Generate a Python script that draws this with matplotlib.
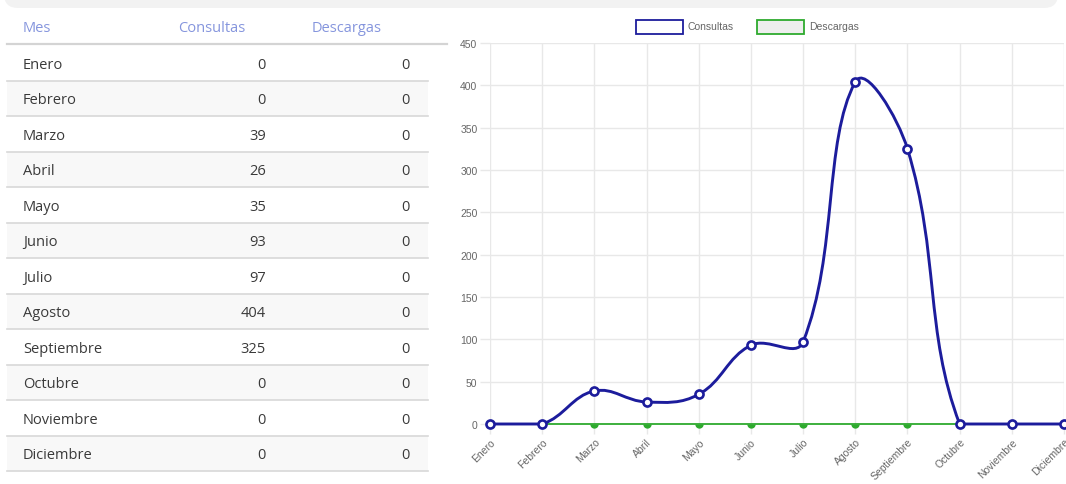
import numpy as np
import matplotlib
matplotlib.use("Agg")
import matplotlib.pyplot as plt
from matplotlib.path import Path
from matplotlib.markers import MarkerStyle
from matplotlib.patches import PathPatch, Rectangle, FancyBboxPatch

# ---------------- data ----------------
meses = ["Enero", "Febrero", "Marzo", "Abril", "Mayo", "Junio", "Julio",
         "Agosto", "Septiembre", "Octubre", "Noviembre", "Diciembre"]
consultas = [0, 0, 39, 26, 35, 93, 97, 404, 325, 0, 0, 0]
descargas = [0, 0, 0, 0, 0, 0, 0, 0, 0, 0, 0, 0]
series_names = ["Consultas", "Descargas"]
header = ["Mes", "Consultas", "Descargas"]
y_ticks = [0, 50, 100, 150, 200, 250, 300, 350, 400, 450]

# ---------------- styles ----------------
W, H = 1066, 485
BLUE = "#1c1c9c"
GREEN = "#2eaa2e"
GRID = "#e8e8e8"
TICK_C = "#666666"
HEAD_C = "#8595dd"
TEXT_C = "#3a3a3a"
TABLE_FONT = ["Open Sans", "DejaVu Sans"]
CHART_FONT = ["Liberation Sans", "DejaVu Sans"]

fig = plt.figure(figsize=(W / 100, H / 100), dpi=100)

# overlay axes in pixel coordinates
bg = fig.add_axes([0, 0, 1, 1])
bg.set_xlim(0, W)
bg.set_ylim(H, 0)
bg.axis("off")

# top gray bar
bg.add_patch(FancyBboxPatch((4, -30), 1054, 39,
                            boxstyle="round,pad=0,rounding_size=14",
                            fc="#f2f2f2", ec="none"))

# ---------------- table ----------------
tx0, tx1 = 7, 428
row_top = 46
row_h = 35.5
col_head_x = [23, 178, 312]
for j, h in enumerate(header):
    bg.text(col_head_x[j], 28, h, color=HEAD_C, fontsize=10.5,
            family=TABLE_FONT, va="center", ha="left")
bg.plot([tx0, 447], [44.5, 44.5], color="#d4d4d4", lw=1.6)
for i, m in enumerate(meses):
    top = row_top + i * row_h
    if i % 2 == 1:
        bg.add_patch(Rectangle((tx0, top), tx1 - tx0, row_h, fc="#f8f8f8", ec="none", zorder=0))
    yc = top + row_h / 2 + 1.5
    bg.text(23, yc, m, color=TEXT_C, fontsize=10.5, family=TABLE_FONT, va="center", ha="left")
    bg.text(266, yc, str(consultas[i]), color=TEXT_C, fontsize=10.5, family=TABLE_FONT,
            va="center", ha="right")
    bg.text(410, yc, str(descargas[i]), color=TEXT_C, fontsize=10.5, family=TABLE_FONT,
            va="center", ha="right")
    bg.plot([tx0, tx1], [top + row_h, top + row_h], color="#d8d8d8", lw=1.2)

# ---------------- chart ----------------
ax = fig.add_axes([490 / W, (H - 425) / H, 574 / W, 381 / H])
x = np.arange(len(meses))
ax.set_xlim(0, len(meses) - 1)
ax.set_ylim(0, 450)
ax.set_yticks(y_ticks)
ax.set_xticks(x)
ax.set_xticklabels(meses, rotation=45, ha="right", rotation_mode="anchor",
                   family=CHART_FONT, fontsize=7.5, color=TICK_C)
ax.set_yticklabels([str(v) for v in y_ticks], family=CHART_FONT, fontsize=7.5, color=TICK_C)
ax.tick_params(axis="both", length=7, color=GRID, width=1, pad=2)
ax.grid(True, color=GRID, lw=1)
ax.set_axisbelow(True)
for s in ax.spines.values():
    s.set_visible(False)
ax.patch.set_alpha(0)


def spline_path(ax, xs, ys, t=0.4):
    pts = ax.transData.transform(np.column_stack([xs, ys]).astype(float))
    n = len(pts)
    cp_prev = pts.copy()
    cp_next = pts.copy()
    for i in range(n):
        p = pts[i]
        prev = pts[i - 1] if i > 0 else p
        nxt = pts[i + 1] if i < n - 1 else p
        d01 = np.hypot(*(p - prev))
        d12 = np.hypot(*(nxt - p))
        tot = d01 + d12
        s01 = d01 / tot if tot else 0.0
        s12 = d12 / tot if tot else 0.0
        cp_prev[i] = p - t * s01 * (nxt - prev)
        cp_next[i] = p + t * s12 * (nxt - prev)
    bb = ax.bbox
    for arr in (cp_prev, cp_next):
        arr[:, 0] = np.clip(arr[:, 0], bb.x0, bb.x1)
        arr[:, 1] = np.clip(arr[:, 1], bb.y0, bb.y1)
    verts = [pts[0]]
    codes = [Path.MOVETO]
    for i in range(1, n):
        verts += [cp_next[i - 1], cp_prev[i], pts[i]]
        codes += [Path.CURVE4] * 3
    verts = ax.transData.inverted().transform(np.array(verts))
    return Path(verts, codes)


# Descargas (drawn first)
ax.add_patch(PathPatch(spline_path(ax, x, descargas), fill=False, ec=GREEN, lw=1.3,
                       clip_on=False, zorder=3))
ax.plot(x, descargas, ls="none", marker=MarkerStyle("o", fillstyle="bottom"), ms=6,
        mfc=GREEN, mec="none", clip_on=False, zorder=3)
# Consultas
ax.add_patch(PathPatch(spline_path(ax, x, consultas), fill=False, ec=BLUE, lw=2.1,
                       clip_on=False, zorder=4, capstyle="round", joinstyle="round"))
ax.plot(x, consultas, ls="none", marker="o", ms=5.8, mfc="white", mec=BLUE, mew=1.9,
        clip_on=False, zorder=5)

# legend (Chart.js style)
leg = [(636, series_names[0], BLUE, "white"), (757, series_names[1], GREEN, "#eeeeee")]
for lx, name, ec, fc in leg:
    bg.add_patch(Rectangle((lx, 21), 47, 14, fc=fc, ec=ec, lw=1.3))
    bg.text(lx + 52, 27.5, name, family=CHART_FONT, fontsize=7.5, color=TICK_C,
            va="center", ha="left")

fig.savefig("out.png", dpi=100)
